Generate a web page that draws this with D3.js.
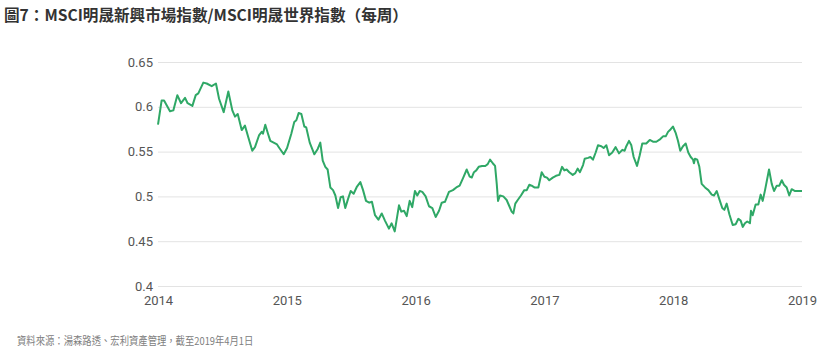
<html>
<script src='https://d3js.org/d3.v7.min.js'></script>
<style>
body { margin: 0; background: #fff; }
text { font-family: Roboto, "Noto Sans", "Noto Sans CJK TC", sans-serif; }
.grid line { stroke: #e3e3e3; }
.grid path { display: none; }
.tick text { fill: #555; font-size: 13px; }
</style>
<body onload='init()'>
<svg width=834 height=354></svg>
<script>
// weekly MSCI EM / MSCI World ratio (decimal year, value)
var weeks = [
 2014.000, 2014.028, 2014.047, 2014.093, 2014.119, 2014.150, 2014.179, 2014.210, 2014.230, 2014.267,
 2014.293, 2014.313, 2014.352, 2014.378, 2014.417, 2014.450, 2014.474, 2014.510, 2014.546, 2014.577,
 2014.598, 2014.619, 2014.650, 2014.675, 2014.701, 2014.732, 2014.753, 2014.784, 2014.805, 2014.815,
 2014.833, 2014.854, 2014.872, 2014.898, 2014.924, 2014.942, 2014.976, 2015.002, 2015.035, 2015.058,
 2015.074, 2015.092, 2015.113, 2015.136, 2015.151, 2015.178, 2015.214, 2015.240, 2015.260, 2015.279,
 2015.299, 2015.317, 2015.338, 2015.359, 2015.377, 2015.398, 2015.418, 2015.436, 2015.454, 2015.475,
 2015.496, 2015.519, 2015.545, 2015.571, 2015.592, 2015.615, 2015.640, 2015.661, 2015.685, 2015.711,
 2015.737, 2015.762, 2015.793, 2015.814, 2015.838, 2015.871, 2015.889, 2015.910, 2015.931, 2015.954,
 2015.974, 2015.995, 2016.013, 2016.032, 2016.052, 2016.078, 2016.104, 2016.130, 2016.156, 2016.182,
 2016.203, 2016.228, 2016.259, 2016.290, 2016.316, 2016.342, 2016.370, 2016.397, 2016.420, 2016.436,
 2016.453, 2016.471, 2016.490, 2016.516, 2016.541, 2016.560, 2016.578, 2016.599, 2016.617, 2016.630,
 2016.640, 2016.655, 2016.681, 2016.707, 2016.728, 2016.746, 2016.759, 2016.774, 2016.793, 2016.818,
 2016.844, 2016.863, 2016.883, 2016.901, 2016.922, 2016.953, 2016.979, 2017.000, 2017.020, 2017.038,
 2017.065, 2017.090, 2017.116, 2017.137, 2017.155, 2017.173, 2017.193, 2017.220, 2017.240, 2017.258,
 2017.276, 2017.300, 2017.313, 2017.339, 2017.357, 2017.377, 2017.398, 2017.416, 2017.442, 2017.460,
 2017.481, 2017.502, 2017.527, 2017.553, 2017.579, 2017.605, 2017.623, 2017.636, 2017.657, 2017.675,
 2017.693, 2017.719, 2017.740, 2017.760, 2017.791, 2017.818, 2017.843, 2017.869, 2017.900, 2017.921,
 2017.942, 2017.960, 2017.981, 2017.998, 2018.019, 2018.037, 2018.055, 2018.076, 2018.097, 2018.117,
 2018.136, 2018.154, 2018.161, 2018.169, 2018.187, 2018.203, 2018.221, 2018.247, 2018.273, 2018.299,
 2018.317, 2018.338, 2018.358, 2018.381, 2018.397, 2018.415, 2018.436, 2018.462, 2018.485, 2018.506,
 2018.524, 2018.540, 2018.557, 2018.575, 2018.596, 2018.604, 2018.617, 2018.640, 2018.661, 2018.679,
 2018.695, 2018.713, 2018.744, 2018.765, 2018.783, 2018.804, 2018.824, 2018.843, 2018.860, 2018.881,
 2018.901, 2018.920, 2018.946, 2018.971, 2019.000
];
var ratio = [
 0.580, 0.607, 0.607, 0.595, 0.596, 0.613, 0.604, 0.610, 0.604, 0.601,
 0.613, 0.615, 0.627, 0.626, 0.623, 0.626, 0.609, 0.594, 0.617, 0.596,
 0.589, 0.592, 0.574, 0.579, 0.566, 0.551, 0.555, 0.568, 0.572, 0.570,
 0.580, 0.570, 0.562, 0.560, 0.558, 0.554, 0.547, 0.554, 0.570, 0.583,
 0.585, 0.593, 0.592, 0.578, 0.577, 0.560, 0.547, 0.553, 0.560, 0.540,
 0.533, 0.530, 0.510, 0.507, 0.501, 0.487, 0.499, 0.500, 0.487, 0.497,
 0.506, 0.503, 0.511, 0.516, 0.507, 0.495, 0.493, 0.494, 0.479, 0.474,
 0.481, 0.473, 0.464, 0.470, 0.461, 0.490, 0.483, 0.484, 0.478, 0.495,
 0.488, 0.506, 0.501, 0.506, 0.505, 0.500, 0.489, 0.487, 0.477, 0.484,
 0.493, 0.494, 0.505, 0.507, 0.510, 0.512, 0.521, 0.530, 0.522, 0.521,
 0.527, 0.529, 0.533, 0.534, 0.534, 0.536, 0.541, 0.537, 0.534, 0.514,
 0.495, 0.501, 0.500, 0.496, 0.489, 0.483, 0.481, 0.492, 0.496, 0.501,
 0.507, 0.507, 0.513, 0.512, 0.510, 0.510, 0.527, 0.522, 0.521, 0.518,
 0.521, 0.523, 0.524, 0.533, 0.529, 0.530, 0.527, 0.524, 0.526, 0.531,
 0.527, 0.535, 0.542, 0.543, 0.544, 0.541, 0.549, 0.557, 0.556, 0.554,
 0.557, 0.546, 0.549, 0.555, 0.548, 0.552, 0.551, 0.556, 0.562, 0.557,
 0.544, 0.534, 0.546, 0.559, 0.559, 0.563, 0.561, 0.561, 0.564, 0.567,
 0.567, 0.572, 0.575, 0.578, 0.571, 0.562, 0.551, 0.556, 0.559, 0.549,
 0.544, 0.541, 0.537, 0.542, 0.541, 0.533, 0.514, 0.510, 0.507, 0.502,
 0.501, 0.506, 0.497, 0.487, 0.485, 0.492, 0.480, 0.468, 0.469, 0.475,
 0.473, 0.466, 0.470, 0.472, 0.470, 0.484, 0.479, 0.491, 0.491, 0.502,
 0.495, 0.507, 0.530, 0.514, 0.506, 0.512, 0.512, 0.518, 0.513, 0.510,
 0.501, 0.508, 0.506, 0.506, 0.506
];
var yearTicks = [2014, 2015, 2016, 2017, 2018, 2019];
var valueTicks = [0.4, 0.45, 0.5, 0.55, 0.6, 0.65];

var title = "圖7：MSCI明晟新興市場指數/MSCI明晟世界指數（每周）";
var source = "資料來源：湯森路透、宏利資產管理，截至2019年4月1日";

function init() {
  var margin = {top: 62, right: 32, bottom: 68, left: 158},
      width = 834 - margin.left - margin.right,
      height = 354 - margin.top - margin.bottom;

  var svg = d3.select("svg");

  svg.append("text")
     .attr("x", 4).attr("y", 21)
     .style("font-family", "'Noto Sans CJK TC', sans-serif")
     .style("font-size", "15.6px").style("font-weight", "bold")
     .style("fill", "#333")
     .text(title);

  // source line: the original font is tall and narrow, so squeeze it a little
  svg.append("text")
     .attr("transform", "translate(17,345) scale(0.85,1)")
     .style("font-family", "'Noto Sans CJK TC', sans-serif")
     .style("font-size", "11px")
     .style("fill", "#808080")
     .text(source);

  var g = svg.append("g")
     .attr("transform", "translate(" + margin.left + "," + margin.top + ")");

  var x = d3.scaleLinear().domain([2014, 2019]).range([0, width]);
  var y = d3.scaleLinear().domain([0.4, 0.65]).range([height, 0]);

  g.append("g").attr("class", "grid")
   .call(d3.axisLeft(y).tickValues(valueTicks).tickFormat(d3.format("~g"))
     .tickSize(-width).tickPadding(5));

  g.append("g").attr("class", "grid")
   .attr("transform", "translate(0," + height + ")")
   .call(d3.axisBottom(x).tickValues(yearTicks).tickFormat(d3.format("d"))
     .tickSize(0).tickPadding(10));

  var line = d3.line()
     .x(function(d, i){ return x(weeks[i]); })
     .y(function(d){ return y(d); });

  g.append("path").datum(ratio)
   .attr("d", line)
   .attr("fill", "none")
   .attr("stroke", "#2fa866")
   .attr("stroke-width", 2)
   .attr("stroke-linejoin", "round");
}
</script>
</body>
</html>
